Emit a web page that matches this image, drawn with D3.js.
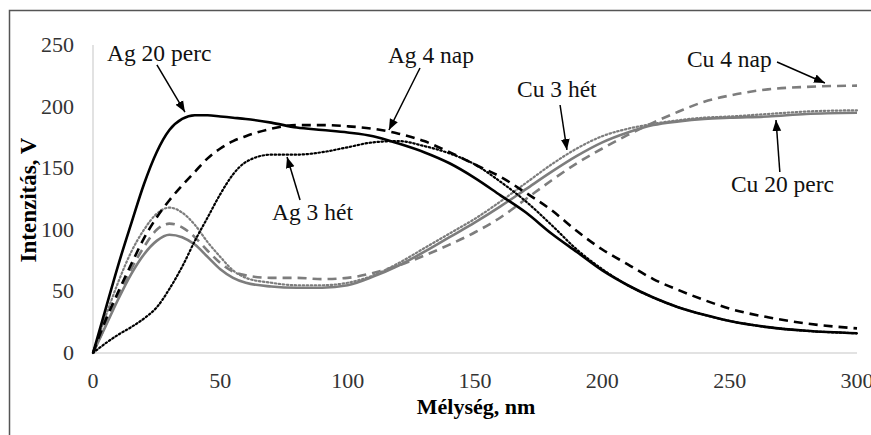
<!DOCTYPE html>
<html>
<head>
<meta charset="utf-8">
<script src="https://cdn.jsdelivr.net/npm/d3@7"></script>
<style>
  body { margin: 0; background: #fff; }
  text { font-family: "Liberation Serif", "Times New Roman", serif; }
</style>
</head>
<body>
<svg id="chart" width="871" height="435"></svg>
<script>
// mélység (nm) értékek
const melyseg = [0, 5, 10, 15, 20, 25, 30, 35, 40, 45, 50, 55, 60, 70, 80, 90, 100, 110, 120, 130, 140, 150, 160, 170, 180, 190, 200, 210, 220, 230, 240, 250, 265, 280, 300];

const ag20perc = [0, 36, 72, 105, 137, 163, 181, 190, 193, 193, 192, 191, 190, 187, 183, 181, 179, 176, 170, 163, 154, 142, 128, 114, 97, 82, 67, 55, 45, 37, 31, 26, 21, 18, 16];
const ag4nap   = [0, 27, 50, 72, 93, 110, 124, 136, 147, 158, 166, 172, 176, 182, 185, 185, 184, 182, 178, 172, 163, 153, 143, 130, 116, 99, 84, 72, 60, 51, 43, 36, 29, 24, 20];
const ag3het   = [0, 8, 15, 21, 28, 37, 52, 70, 91, 110, 129, 145, 155, 161, 161, 163, 167, 171, 172, 168, 162, 153, 139, 123, 104, 84, 68, 55, 45, 37, 31, 26, 21, 18, 16];
const cu20perc = [0, 22, 44, 64, 80, 91, 96, 94, 88, 78, 68, 61, 57, 54, 53, 53, 55, 62, 71, 82, 94, 106, 119, 133, 147, 160, 171, 179, 185, 188, 190, 191, 192, 194, 195];
const cu4nap   = [0, 23, 46, 68, 86, 100, 105, 102, 94, 83, 73, 66, 63, 61, 61, 60, 61, 65, 71, 79, 88, 98, 110, 125, 140, 154, 166, 177, 187, 196, 204, 209, 214, 216, 217];
const cu3het   = [0, 30, 58, 82, 100, 113, 118, 114, 104, 90, 78, 67, 61, 57, 55, 55, 57, 63, 73, 85, 97, 109, 123, 138, 153, 166, 176, 182, 186, 189, 191, 192, 194, 196, 197];

const xTicks = [0, 50, 100, 150, 200, 250, 300];
const yTicks = [0, 50, 100, 150, 200, 250];

// feliratok: szöveg kezdőpontja és nyíl (adat-koordinátákban)
const feliratok = [
  { t: "Ag 20 perc", tx: 5.5,   ty: 237,   x1: 25.1,  y1: 233.8, x2: 36.1,  y2: 195.6 },
  { t: "Ag 4 nap",   tx: 115.8, ty: 235.4, x1: 128.4, y1: 231.3, x2: 116.2, y2: 181 },
  { t: "Cu 3 hét",   tx: 166.5, ty: 207.8, x1: 183.4, y1: 201.3, x2: 186.1, y2: 164.8 },
  { t: "Cu 4 nap",   tx: 233.2, ty: 232.1, x1: 268.6, y1: 236.2, x2: 287.4, y2: 219.2 },
  { t: "Cu 20 perc", tx: 250.5, ty: 130.7, x1: 269.7, y1: 146.9, x2: 268.2, y2: 189.1 },
  { t: "Ag 3 hét",   tx: 70.3,  ty: 108,   x1: 81.3,  y1: 124.2, x2: 76.2,  y2: 159.1 }
];

const sorozatok = [
  { v: cu20perc, color: "#7d7d7d", dash: null,   w: 2.6 },
  { v: cu4nap,   color: "#7d7d7d", dash: "9,6",  w: 2.6 },
  { v: cu3het,   color: "#7d7d7d", dash: "1.5,2.5", w: 2.2 },
  { v: ag20perc, color: "#000",    dash: null,   w: 2.6 },
  { v: ag4nap,   color: "#000",    dash: "9,6",  w: 2.6 },
  { v: ag3het,   color: "#000",    dash: "1.5,2.5", w: 2.2 }
];

const svg = d3.select("#chart");

// keret
svg.append("rect")
  .attr("x", 9.5).attr("y", 10.5)
  .attr("width", 900).attr("height", 500)
  .attr("fill", "none")
  .attr("stroke", "#555")
  .attr("stroke-width", 1.5);

const gx = d3.scaleLinear().domain([0, 300]).range([93, 857]);
const gy = d3.scaleLinear().domain([0, 250]).range([353, 45]);

// tengelyek
svg.append("line")
  .attr("x1", gx(0)).attr("x2", gx(300))
  .attr("y1", gy(0)).attr("y2", gy(0))
  .attr("stroke", "#d9d9d9").attr("stroke-width", 1.5);
svg.append("line")
  .attr("x1", gx(0)).attr("x2", gx(0))
  .attr("y1", gy(0)).attr("y2", gy(250))
  .attr("stroke", "#d9d9d9").attr("stroke-width", 1.5);

svg.selectAll(".xt")
  .data(xTicks)
  .enter()
  .append("text")
  .attr("x", d => gx(d))
  .attr("y", 388)
  .attr("text-anchor", "middle")
  .attr("font-size", 22)
  .attr("fill", "#333")
  .text(d => d);

svg.selectAll(".yt")
  .data(yTicks)
  .enter()
  .append("text")
  .attr("x", 74)
  .attr("y", d => gy(d) + 7)
  .attr("text-anchor", "end")
  .attr("font-size", 22)
  .attr("fill", "#333")
  .text(d => d);

svg.append("text")
  .attr("x", 476).attr("y", 414)
  .attr("text-anchor", "middle")
  .attr("font-size", 22)
  .attr("font-weight", "bold")
  .text("Mélység, nm");

svg.append("text")
  .attr("transform", "translate(36,200) rotate(-90)")
  .attr("text-anchor", "middle")
  .attr("font-size", 23)
  .attr("font-weight", "bold")
  .text("Intenzitás, V");

// görbék
const vonal = d3.line()
  .x((d, i) => gx(melyseg[i]))
  .y(d => gy(d))
  .curve(d3.curveMonotoneX);

svg.selectAll(".gorbe")
  .data(sorozatok)
  .enter()
  .append("path")
  .attr("d", d => vonal(d.v))
  .attr("fill", "none")
  .attr("stroke", d => d.color)
  .attr("stroke-width", d => d.w)
  .attr("stroke-dasharray", d => d.dash)
  .attr("stroke-linecap", d => d.dash && d.dash.startsWith("1.5") ? "round" : "butt");

// nyilak
svg.append("defs").append("marker")
  .attr("id", "nyil")
  .attr("viewBox", "0 0 10 10")
  .attr("refX", 10).attr("refY", 5)
  .attr("markerWidth", 11).attr("markerHeight", 11)
  .attr("markerUnits", "userSpaceOnUse")
  .attr("orient", "auto")
  .append("path")
  .attr("d", "M0,1 L10,5 L0,9 Z")
  .attr("fill", "#000");

svg.selectAll(".nyil")
  .data(feliratok)
  .enter()
  .append("line")
  .attr("x1", d => gx(d.x1)).attr("y1", d => gy(d.y1))
  .attr("x2", d => gx(d.x2)).attr("y2", d => gy(d.y2))
  .attr("stroke", "#000")
  .attr("stroke-width", 1.5)
  .attr("marker-end", "url(#nyil)");

svg.selectAll(".felirat")
  .data(feliratok)
  .enter()
  .append("text")
  .attr("x", d => gx(d.tx))
  .attr("y", d => gy(d.ty))
  .attr("font-size", 23.5)
  .attr("fill", "#111")
  .text(d => d.t);
</script>
</body>
</html>
